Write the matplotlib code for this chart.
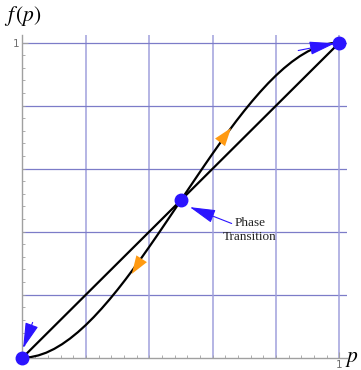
import matplotlib
matplotlib.use("Agg")
import matplotlib.pyplot as plt
from matplotlib.ticker import MultipleLocator, FixedLocator

plt.rcParams['mathtext.fontset'] = 'stix'

# curve
p_vals = [0.0, 0.025, 0.05, 0.075, 0.10, 0.125, 0.15, 0.175, 0.20, 0.225,
          0.25, 0.275, 0.30, 0.325, 0.35, 0.375, 0.40, 0.425, 0.45, 0.475,
          0.50, 0.525, 0.55, 0.575, 0.60, 0.625, 0.65, 0.675, 0.70, 0.725,
          0.75, 0.775, 0.80, 0.825, 0.85, 0.875, 0.90, 0.925, 0.95, 0.975, 1.0]
f_vals = [0.0, 0.0018, 0.0073, 0.0160, 0.028, 0.0430, 0.0608, 0.0812, 0.104, 0.1291,
          0.1563, 0.1853, 0.216, 0.2482, 0.2818, 0.3164, 0.352, 0.3883, 0.4253, 0.4625,
          0.500, 0.5375, 0.5747, 0.6117, 0.648, 0.6836, 0.7182, 0.7518, 0.784, 0.8147,
          0.8437, 0.8709, 0.896, 0.9188, 0.9392, 0.957, 0.972, 0.984, 0.9927, 0.9982, 1.0]

# diagonal f = p
diag_p = [0.0, 1.0]
diag_f = [0.0, 1.0]

# fixed points
fixed_p = [0.0, 0.5, 1.0]
fixed_f = [0.0, 0.5, 1.0]

# orange flow arrows (tail, head) along the curve
flow_tails = [(0.590, 0.640), (0.410, 0.367)]
flow_heads = [(0.658, 0.729), (0.345, 0.266)]

# blue pointer arrows (tail, head)
ptr_tails = [(0.032, 0.112), (0.870, 0.975), (0.660, 0.426)]
ptr_heads = [(0.002, 0.030), (0.986, 0.998), (0.528, 0.478)]

blue = '#2b14ff'
orange = '#ff9a12'
grid_h = '#7c7cc8'
grid_v = '#a0a0dc'
axis_gray = '#a0a0a0'

fig = plt.figure(figsize=(3.61, 3.70), dpi=100)
ax = fig.add_axes([0.0623, 0.0332, 0.899, 0.872])

ax.set_xlim(0, 1.024)
ax.set_ylim(0, 1.024)

for v in [0.2, 0.4, 0.6, 0.8, 1.0]:
    ax.axhline(v, color=grid_h, lw=0.9, zorder=1)
    ax.axvline(v, color=grid_v, lw=1.1, zorder=1)

ax.plot(diag_p, diag_f, color='black', lw=1.6, zorder=3, solid_capstyle='round')
ax.plot(p_vals, f_vals, color='black', lw=1.6, zorder=3, solid_joinstyle='round')

# orange heads only, the shaft would sit on the curve anyway
for (t, h) in zip(flow_tails, flow_heads):
    ax.annotate('', xy=h, xytext=t,
                arrowprops=dict(arrowstyle='-|>,head_length=1.3,head_width=0.45',
                                color=orange, lw=0, shrinkA=0, shrinkB=0),
                zorder=4)

for (t, h) in zip(ptr_tails, ptr_heads):
    ax.annotate('', xy=h, xytext=t,
                arrowprops=dict(arrowstyle='-|>,head_length=1.6,head_width=0.42',
                                color=blue, lw=0.8, shrinkA=0, shrinkB=0),
                zorder=5)

ax.plot(fixed_p, fixed_f, 'o', color=blue, ms=9, zorder=6, clip_on=False)

ax.text(0.718, 0.405, 'Phase\nTransition', family='Liberation Serif', fontsize=9.5,
        ha='center', va='center', linespacing=1.25, color='#222222')

# axes styling
for s in ['top', 'right']:
    ax.spines[s].set_visible(False)
for s in ['left', 'bottom']:
    ax.spines[s].set_color(axis_gray)
    ax.spines[s].set_linewidth(1.0)

ax.xaxis.set_major_locator(FixedLocator([1.0]))
ax.yaxis.set_major_locator(FixedLocator([1.0]))
ax.xaxis.set_minor_locator(MultipleLocator(0.04))
ax.yaxis.set_minor_locator(MultipleLocator(0.04))
ax.tick_params(which='both', direction='in', color=axis_gray, labelcolor='#707070',
               labelsize=7.5, pad=2)
ax.tick_params(which='major', length=4)
ax.tick_params(which='minor', length=2.5)
ax.set_xticklabels(['1'])
ax.set_yticklabels(['1'])

fig.text(0.012, 0.957, r'$f\,(p)$', fontsize=15.5, ha='left', va='center')
fig.text(0.955, 0.030, r'$p$', fontsize=15.5, ha='left', va='center')

fig.savefig('out.png', dpi=100)
